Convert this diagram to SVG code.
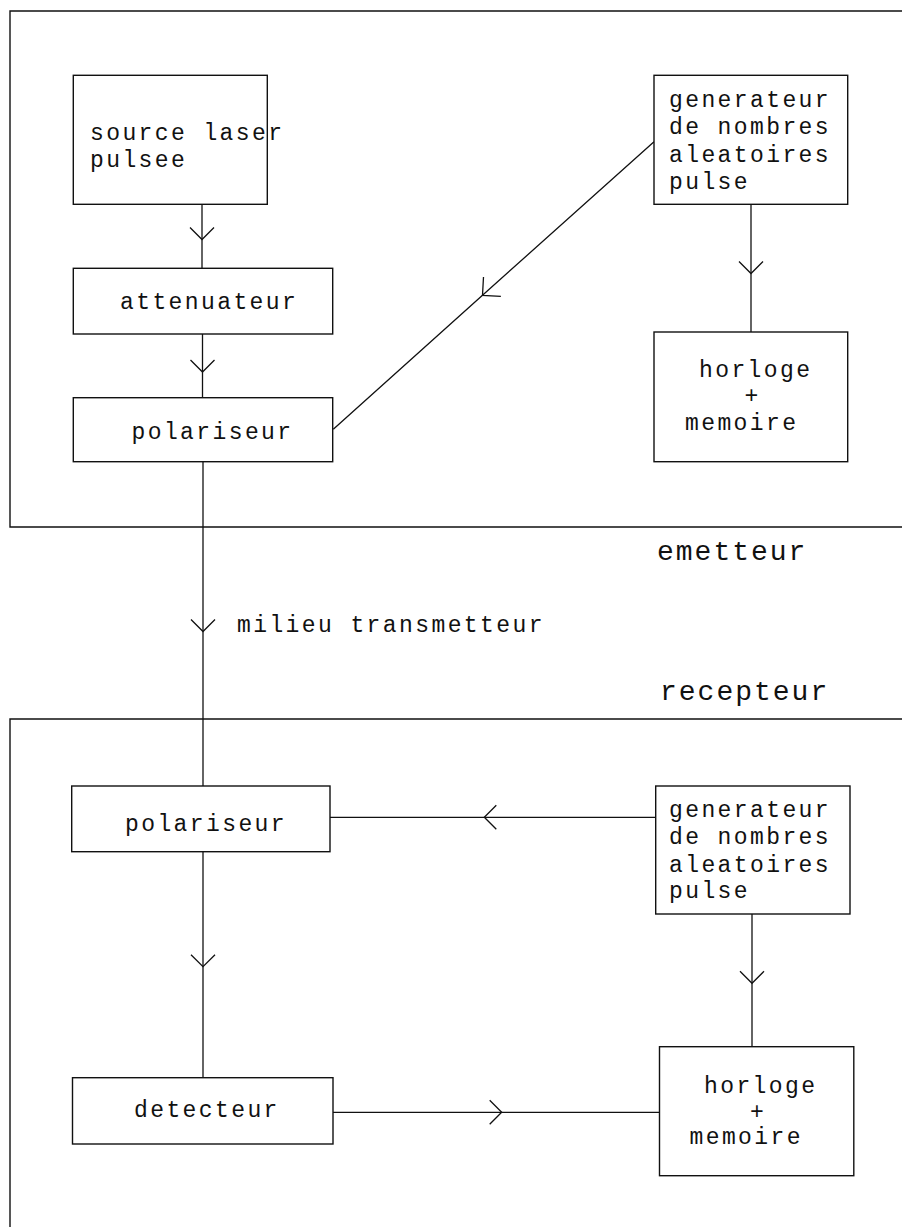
<svg xmlns="http://www.w3.org/2000/svg" width="902" height="1227" viewBox="0 0 902 1227">
<style>
.bx{fill:#fff;stroke:#111;stroke-width:1.4}
.fr{fill:none;stroke:#111;stroke-width:1.4}
.ln{fill:none;stroke:#111;stroke-width:1.3}
.t{font-family:"Liberation Mono","Courier New",monospace;font-size:23px;letter-spacing:2.4px;fill:#111}
.lb{font-family:"Liberation Mono","Courier New",monospace;font-size:28px;letter-spacing:2px;fill:#111}
</style>
<defs>
<marker id="ar" markerUnits="userSpaceOnUse" orient="auto" markerWidth="30" markerHeight="30" refX="0" refY="0" viewBox="-15 -15 30 30" overflow="visible">
<path d="M-12,-12 L0,0 L-12,12" fill="none" stroke="#111" stroke-width="1.3"/>
</marker>
<marker id="arL" markerUnits="userSpaceOnUse" orient="auto" markerWidth="30" markerHeight="30" refX="0" refY="0" viewBox="-15 -15 30 30" overflow="visible">
<path d="M-13,-13 L0,0 L-13,13" fill="none" stroke="#111" stroke-width="1.3"/>
</marker>
</defs>
<rect width="902" height="1227" fill="#fff"/>
<g id="frames">
<path class="fr" d="M902 11 H10 V527 H902"/>
<path class="fr" d="M902 719 H10 V1227"/>
</g>
<g id="connectors">
<path class="ln" d="M202 204 L202 239.5 L202 268" marker-mid="url(#ar)"/>
<path class="ln" d="M202.5 334 L202.5 372 L202.5 398" marker-mid="url(#ar)"/>
<path class="ln" d="M203 462 L203 631.5 L203 786" marker-mid="url(#ar)"/>
<path class="ln" d="M654 141.7 L482.5 295.3 L333.3 429.3" marker-mid="url(#arL)"/>
<path class="ln" d="M751 204 L751 273.5 L751 332" marker-mid="url(#ar)"/>
<path class="ln" d="M655.7 817.3 L484.3 817.3 L330 817.3" marker-mid="url(#ar)"/>
<path class="ln" d="M203 851.7 L203 966.7 L203 1078" marker-mid="url(#ar)"/>
<path class="ln" d="M752 914 L752 983.3 L752 1046.7" marker-mid="url(#ar)"/>
<path class="ln" d="M333 1112.3 L501.7 1112.3 L659.5 1112.3" marker-mid="url(#ar)"/>
</g>
<g id="source">
<rect class="bx" x="73.3" y="75.3" width="194" height="129"/>
<text class="t" x="90" y="140">source laser</text>
<text class="t" x="90" y="167">pulsee</text>
</g>
<g id="attenuateur">
<rect class="bx" x="73.3" y="268.3" width="259.4" height="65.7"/>
<text class="t" x="120" y="309">attenuateur</text>
</g>
<g id="polariseur1">
<rect class="bx" x="73.3" y="397.7" width="259.4" height="64"/>
<text class="t" x="131.5" y="438.5">polariseur</text>
</g>
<g id="generateur1">
<rect class="bx" x="654" y="75.3" width="193.7" height="129"/>
<text class="t" x="669" y="107">generateur</text>
<text class="t" x="669" y="134">de nombres</text>
<text class="t" x="669" y="161.5">aleatoires</text>
<text class="t" x="669" y="188.5">pulse</text>
</g>
<g id="horloge1">
<rect class="bx" x="654" y="332" width="193.7" height="129.7"/>
<text class="t" x="699" y="377">horloge</text>
<text class="t" x="744.5" y="403">+</text>
<text class="t" x="685" y="430">memoire</text>
</g>
<g id="labels">
<text class="lb" x="657" y="560">emetteur</text>
<text class="t" x="237" y="631.5">milieu transmetteur</text>
<text class="lb" x="660" y="700">recepteur</text>
</g>
<g id="polariseur2">
<rect class="bx" x="71.7" y="786" width="258.3" height="65.7"/>
<text class="t" x="125" y="830.7">polariseur</text>
</g>
<g id="generateur2">
<rect class="bx" x="655.7" y="786" width="194.3" height="128"/>
<text class="t" x="669" y="817">generateur</text>
<text class="t" x="669" y="844">de nombres</text>
<text class="t" x="669" y="871.5">aleatoires</text>
<text class="t" x="669" y="898">pulse</text>
</g>
<g id="detecteur">
<rect class="bx" x="72.5" y="1077.7" width="260.5" height="66.3"/>
<text class="t" x="134" y="1117.3">detecteur</text>
</g>
<g id="horloge2">
<rect class="bx" x="659.5" y="1046.7" width="194.3" height="129"/>
<text class="t" x="704" y="1093.3">horloge</text>
<text class="t" x="750" y="1119">+</text>
<text class="t" x="689.5" y="1144">memoire</text>
</g>
</svg>
